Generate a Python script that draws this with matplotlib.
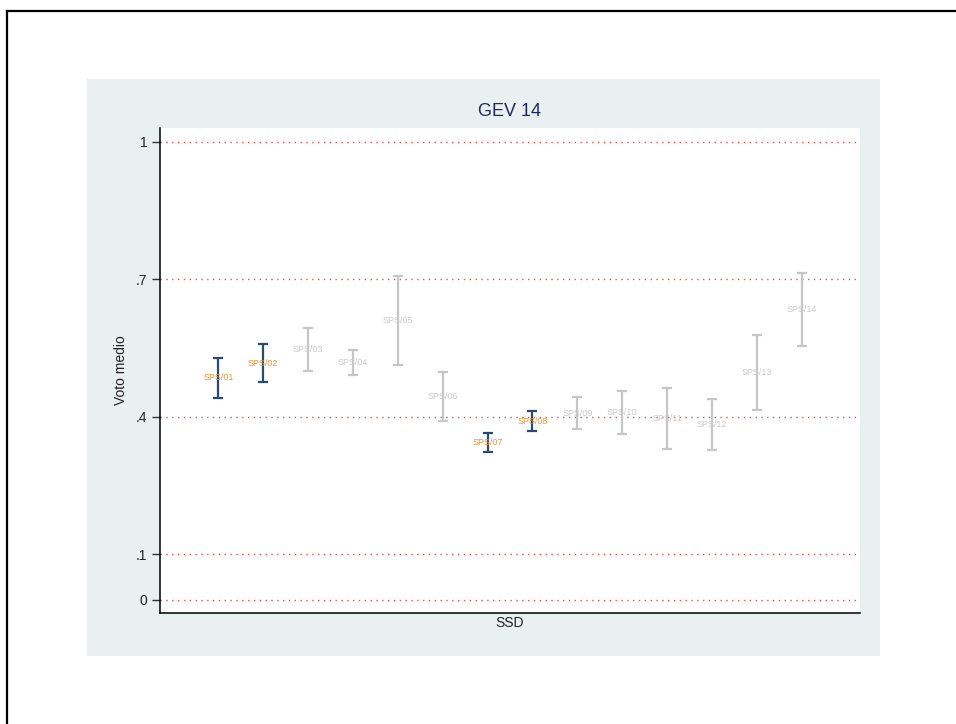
import matplotlib
matplotlib.use("Agg")
import matplotlib.pyplot as plt
from matplotlib.patches import Rectangle
from matplotlib.lines import Line2D

plt.rcParams['font.family'] = ['Liberation Sans', 'DejaVu Sans']

labels = ["SPS/01", "SPS/02", "SPS/03", "SPS/04", "SPS/05", "SPS/06", "SPS/07",
          "SPS/08", "SPS/09", "SPS/10", "SPS/11", "SPS/12", "SPS/13", "SPS/14"]
means = [0.485, 0.517, 0.546, 0.519, 0.610, 0.444, 0.343,
         0.390, 0.408, 0.409, 0.397, 0.383, 0.497, 0.634]
lower = [0.441, 0.476, 0.500, 0.492, 0.512, 0.390, 0.323,
         0.368, 0.373, 0.362, 0.330, 0.328, 0.415, 0.554]
upper = [0.529, 0.559, 0.593, 0.545, 0.707, 0.498, 0.364,
         0.412, 0.444, 0.456, 0.463, 0.439, 0.578, 0.714]
highlight = [True, True, False, False, False, False, True,
             True, False, False, False, False, False, False]
yticks = [0, 0.1, 0.4, 0.7, 1]
ytick_labels = ["0", ".1", ".4", ".7", "1"]

W, H = 956, 724
fig = plt.figure(figsize=(W / 100, H / 100), dpi=100)
fig.patch.set_facecolor('white')

# outer panel (light blue-gray)
fig.add_artist(Rectangle((87 / W, 1 - 656 / H), (880 - 87) / W, (656 - 79) / H,
                         transform=fig.transFigure, facecolor='#E8F0F2',
                         edgecolor='none', zorder=-10))
# frame lines (top and left)
fig.add_artist(Line2D([7 / W, 1.0], [1 - 11 / H, 1 - 11 / H], transform=fig.transFigure,
                      color='black', lw=1.6))
fig.add_artist(Line2D([7 / W, 7 / W], [0.0, 1 - 11 / H], transform=fig.transFigure,
                      color='black', lw=1.6))

ax = fig.add_axes([160 / W, 1 - 613 / H, 700 / W, (613 - 128) / H])
ax.set_facecolor('white')
ax.set_zorder(1)

navy = '#264B6E'
grey = '#C6C6C6'
orange = '#E8952F'
lgrey = '#C9C9C9'

xs = list(range(1, len(labels) + 1))
for x, m, lo, hi, hl, lab in zip(xs, means, lower, upper, highlight, labels):
    c = navy if hl else grey
    ax.errorbar([x], [m], yerr=[[m - lo], [hi - m]], fmt='none', ecolor=c,
                elinewidth=1.6, capsize=3.8, capthick=1.6, zorder=3)
    ax.text(x, m, lab, ha='center', va='center', fontsize=6.4,
            color=orange if hl else lgrey, zorder=4)

for v in yticks:
    ax.axhline(v, color='#EE4A4A', lw=1.0, linestyle=(0, (1, 3.2)), zorder=1)

ax.set_xlim(-0.3, 15.3)
ax.set_ylim(-0.0284, 1.030)
ax.set_yticks(yticks)
ax.set_yticklabels(ytick_labels, fontsize=10, color='#222222')
ax.set_xticks([])
ax.tick_params(axis='y', length=6, width=1, color='#333333', pad=3)

for s in ['top', 'right']:
    ax.spines[s].set_visible(False)
for s in ['left', 'bottom']:
    ax.spines[s].set_color('black')
    ax.spines[s].set_linewidth(1.1)

ax.set_title("GEV 14", fontsize=13, color='#1E2B57', pad=9)
ax.set_ylabel("Voto medio", fontsize=10, color='#222222', labelpad=6)
ax.set_xlabel("SSD", fontsize=10, color='#222222', labelpad=2)

fig.savefig("out.png", dpi=100, facecolor='white')
